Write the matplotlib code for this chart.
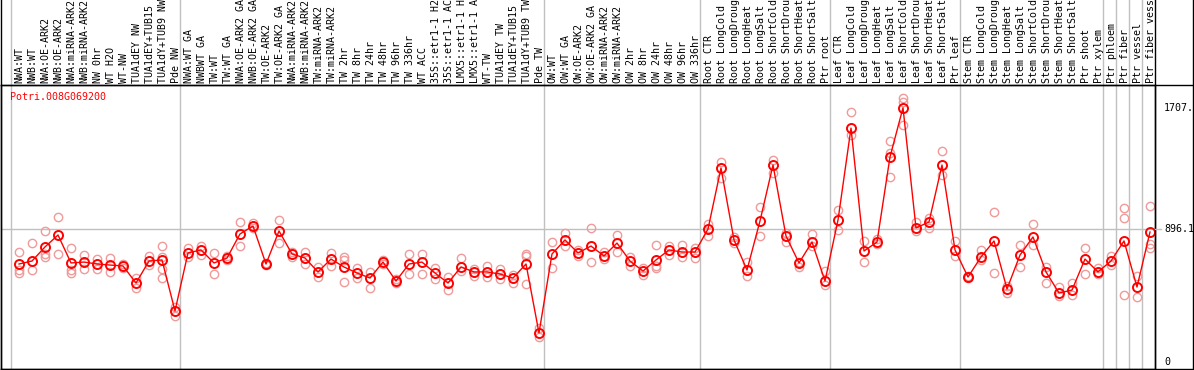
import numpy as np
import matplotlib.pyplot as plt
import matplotlib.transforms as mtransforms

plt.rcParams['font.family'] = ['DejaVu Sans Mono']

gene = "Potri.008G069200"

samples = [
    "NWA:WT", "NWB:WT", "NWA:OE-ARK2", "NWB:OE-ARK2", "NWA:miRNA-ARK2",
    "NWB:miRNA-ARK2", "NW 0hr", "WT H2O", "WT-NW", "TUA1dEY NW",
    "TUA1dEY+TUB15 NW", "TUA1dY+TUB9 NW", "Pde NW",
    "NWA:WT GA", "NWBWT GA", "TW:WT", "TW:WT GA", "NWA:OE-ARK2 GA",
    "NWB:OE-ARK2 GA", "TW:OE-ARK2", "TW:OE-ARK2 GA", "NWA:miRNA-ARK2",
    "NWB:miRNA-ARK2", "TW:miRNA-ARK2", "TW:miRNA-ARK2", "TW 2hr", "TW 8hr",
    "TW 24hr", "TW 48hr", "TW 96hr", "TW 336hr", "WT ACC", "35S::etr1-1 H2O",
    "35S::etr1-1 ACC", "LMX5::etr1-1 H2O", "LMX5::etr1-1 ACC", "WT-TW",
    "TUA1dEY TW", "TUA1dEY+TUB15 TW", "TUA1dY+TUB9 TW", "Pde TW",
    "OW:WT", "OW:WT GA", "OW:OE-ARK2", "OW:OE-ARK2 GA", "OW:miRNA-ARK2",
    "OW:miRNA-ARK2", "OW 2hr", "OW 8hr", "OW 24hr", "OW 48hr", "OW 96hr",
    "OW 336hr",
    "Root CTR", "Root LongCold", "Root LongDrought", "Root LongHeat",
    "Root LongSalt", "Root ShortCold", "Root ShortDrought", "Root ShortHeat",
    "Root ShortSalt", "Ptr root",
    "Leaf CTR", "Leaf LongCold", "Leaf LongDrought", "Leaf LongHeat",
    "Leaf LongSalt", "Leaf ShortCold", "Leaf ShortDrought", "Leaf ShortHeat",
    "Leaf ShortSalt", "Ptr leaf",
    "Stem CTR", "Stem LongCold", "Stem LongDrought", "Stem LongHeat",
    "Stem LongSalt", "Stem ShortCold", "Stem ShortDrought", "Stem ShortHeat",
    "Stem ShortSalt", "Ptr shoot", "Ptr xylem",
    "Ptr phloem", "Ptr fiber", "Ptr vessel", "Ptr fiber vessel",
]

# first sample index of each group
group_starts = [0, 13, 41, 53, 63, 73, 84, 85, 86, 87]

means = [
    662, 682, 776, 856, 669, 675, 662, 655, 649, 535, 682, 689, 348,
    736, 756, 669, 702, 863, 916, 662, 883, 729, 702, 609, 695, 642, 602,
    568, 675, 548, 662, 675, 602, 535, 642, 609, 609, 595, 568, 662, 201,
    729, 823, 736, 782, 716, 802, 682, 615, 689, 756, 742, 742,
    896, 1304, 823, 622, 950, 1324, 849, 669, 809, 548,
    956, 1571, 749, 809, 1378, 1707, 903, 943, 1324, 756,
    575, 709, 816, 495, 722, 843, 609, 468, 488, 695, 609,
    682, 816, 508, 876,
]

reps = [
    [742, 622, 602], [802, 622], [883, 729, 709], [976, 729],
    [769, 622, 602], [722, 629], [695, 629], [702, 609], [662, 635],
    [568, 502], [716, 655], [782, 709, 629, 568], [374, 314],
    [769, 709], [782, 722], [736, 595], [716, 689], [943, 782], [936, 903],
    [669, 655], [956, 802], [742, 709], [742, 662], [642, 575], [736, 649],
    [709, 689, 542], [635, 568], [609, 502], [689, 662], [562, 535],
    [729, 595], [729, 595], [635, 562], [575, 488], [702, 615], [629, 582],
    [649, 575], [629, 562], [588, 535], [729, 716, 528], [234, 174],
    [809, 635], [869, 782], [756, 716], [903, 675], [742, 695], [856, 742],
    [709, 649], [635, 588], [789, 649, 635], [782, 722], [789, 709],
    [769, 702],
    [929, 849], [1344, 1237], [843, 802], [675, 582], [1043, 849],
    [1357, 1271], [869, 809], [675, 642], [863, 782], [615, 522],
    [1023, 889], [1678, 1525], [816, 675], [829, 796], [1484, 1404, 1244],
    [1772, 1745, 1592], [943, 883], [970, 903], [1418, 1257], [816, 716],
    [582, 568], [756, 689], [1010, 602], [468, 515], [789, 642], [929, 789],
    [642, 535], [508, 448], [535, 455], [769, 595], [635, 595],
    [716, 655], [1036, 970, 455], [582, 441], [1050, 796, 769],
]

ref_ticks = [0, 896.1, 1707]
ref_labels = ["0", "896.1", "1707."]

W, H = 1194, 370
fig = plt.figure(figsize=(W / 100, H / 100), dpi=100)

# plot area in pixels: x 1..1155, y 85..369 (from top)
x0, x1, ytop, ybot = 1, 1155, 85, 369
ax = fig.add_axes([x0 / W, (H - ybot) / H, (x1 - x0) / W, (ybot - ytop) / H])
px_per_col = 13.0
first_center = 19.0
ax.set_xlim((x0 - first_center) / px_per_col, (x1 - first_center) / px_per_col)
unit = 896.1 / (363 - 229)
ax.set_ylim(-(ybot - 363) * unit, (363 - ytop) * unit)
ax.set_xticks([])
ax.set_yticks([])
for s in ax.spines.values():
    s.set_color('black')
    s.set_linewidth(1)

red = '#ff0000'
pink = '#f09a9a'
xs = np.arange(len(samples))

# vertical group separators, running up through the label area
trans = mtransforms.blended_transform_factory(ax.transData, fig.transFigure)
for g in group_starts:
    gx = g - 8 / px_per_col
    ax.plot([gx, gx], [0, 1], transform=trans, color='#c0c0c0', lw=1,
            clip_on=False, zorder=0)

# horizontal reference line
ax.axhline(896.1, color='#c0c0c0', lw=1, zorder=0)

# replicates
for i, r in enumerate(reps):
    ax.plot([i] * len(r), r, 'o', ms=6, mfc='none', mec=pink, mew=1.0,
            zorder=2)

ax.plot(xs, means, '-', color=red, lw=1, zorder=3)
ax.plot(xs, means, 'o', ms=6.5, mfc='none', mec=red, mew=1.4, zorder=4)

fig.text(10 / W, (H - 97) / H, gene, color=red, fontsize=7.2,
         va='center', ha='left')

# sample labels above the plot
for i, name in enumerate(samples):
    ax.annotate(name, xy=(i, 1), xycoords=('data', 'axes fraction'),
                xytext=(0.5, 1.5), textcoords='offset points', rotation=90,
                ha='center', va='bottom', fontsize=7.2, color='black',
                annotation_clip=False)

# right-hand value panel
fig.add_artist(plt.Line2D([x0 / W, 1193 / W], [(H - ytop) / H] * 2,
                          color='black', lw=1))
fig.add_artist(plt.Line2D([x0 / W, 1193 / W], [(H - ybot) / H] * 2,
                          color='black', lw=1))
fig.add_artist(plt.Line2D([1193 / W] * 2, [(H - ybot) / H, 1],
                          color='black', lw=1))
fig.add_artist(plt.Line2D([x1 / W] * 2, [(H - ybot) / H, 1],
                          color='black', lw=1))
fig.add_artist(plt.Line2D([x0 / W] * 2, [(H - ybot) / H, 1],
                          color='black', lw=1))
ypx_229 = 363 - 896.1 / unit
fig.add_artist(plt.Line2D([x1 / W, 1161 / W], [(H - ypx_229) / H] * 2,
                          color='#c0c0c0', lw=1))
for v, lab in zip(ref_ticks, ref_labels):
    ypx = 363 - v / unit
    if v == 0:
        ypx -= 1
    fig.text(1164 / W, (H - ypx) / H, lab, fontsize=7.2, va='center',
             ha='left')

fig.savefig('out.png', dpi=100)
